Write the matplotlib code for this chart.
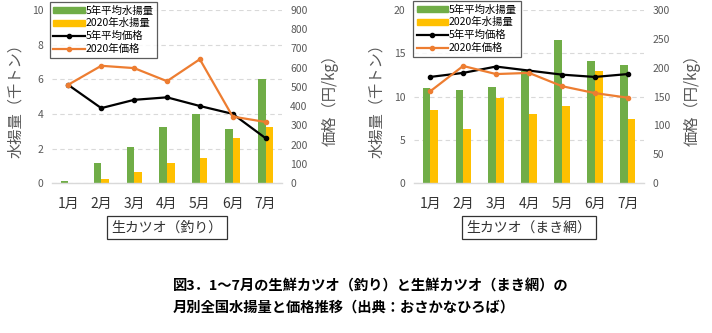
import numpy as np
import matplotlib.pyplot as plt
from matplotlib.lines import Line2D
from matplotlib.patches import Patch

plt.rcParams['font.family'] = ['Noto Sans CJK JP', 'DejaVu Sans']

months = ['1月', '2月', '3月', '4月', '5月', '6月', '7月']

# 生カツオ（釣り）
pole_avg_catch = [0.1, 1.15, 2.1, 3.25, 4.0, 3.15, 6.0]
pole_2020_catch = [0.0, 0.25, 0.65, 1.15, 1.45, 2.6, 3.25]
pole_avg_price = [510, 390, 433, 446, 401, 360, 234]
pole_2020_price = [512, 610, 598, 530, 644, 346, 318]

# 生カツオ（まき網）
seine_avg_catch = [11.0, 10.8, 11.05, 13.0, 16.5, 14.1, 13.7]
seine_2020_catch = [8.4, 6.3, 9.8, 7.95, 8.95, 13.0, 7.4]
seine_avg_price = [184, 191, 202, 195, 188, 184, 189]
seine_2020_price = [159, 203, 189, 191, 168, 156, 148]

GREEN = '#70AD47'
YELLOW = '#FFC000'
ORANGE = '#ED7D31'
GREY = '#595959'
GRID = '#D9D9D9'

fig = plt.figure(figsize=(7.12, 3.33), dpi=100)


def draw_panel(rect, avg_catch, catch_2020, avg_price, price_2020,
               ymax, ystep, pmax, pstep, title, legend_pos):
    ax = fig.add_axes(rect)
    x = np.arange(len(months))
    w = 0.23
    ax.bar(x - w / 2, avg_catch, w, color=GREEN, zorder=2)
    ax.bar(x + w / 2, catch_2020, w, color=YELLOW, zorder=2)
    ax.set_xlim(-0.5, len(months) - 0.5)
    ax.set_ylim(0, ymax)
    ax.set_yticks(np.arange(0, ymax + 0.1, ystep))
    ax.yaxis.grid(True, linestyle=(0, (4, 3)), color=GRID, linewidth=0.8)
    ax.set_axisbelow(True)
    for s in ['top', 'left', 'right']:
        ax.spines[s].set_visible(False)
    ax.spines['bottom'].set_color(GRID)
    ax.spines['bottom'].set_linewidth(1.0)
    ax.set_xticks(x)
    ax.set_xticklabels(months, fontsize=10, color='#333333')
    ax.tick_params(axis='x', length=0, pad=10)
    ax.tick_params(axis='y', length=0, pad=6, labelsize=7.5, labelcolor=GREY)
    ax.set_ylabel('水揚量（千トン）', fontsize=11, color=GREY, labelpad=6)

    ax2 = ax.twinx()
    ax2.plot(x, avg_price, color='black', marker='o', markersize=3, linewidth=1.6, zorder=3)
    ax2.plot(x, price_2020, color=ORANGE, marker='o', markersize=3, linewidth=1.6, zorder=3)
    ax2.set_ylim(0, pmax)
    ax2.set_yticks(np.arange(0, pmax + 1, pstep))
    for s in ax2.spines.values():
        s.set_visible(False)
    ax2.tick_params(axis='y', length=0, pad=6, labelsize=7.5, labelcolor=GREY)
    ax2.set_ylabel('価格（円/kg）', fontsize=11, color=GREY, labelpad=10)

    # category caption box under the month labels
    ax.text(0.5, -0.215, title, transform=ax.transAxes, ha='center', va='top',
            fontsize=10, color='#333333',
            bbox=dict(boxstyle='square,pad=0.35', facecolor='white',
                      edgecolor='#333333', linewidth=0.9))

    handles = [Patch(color=GREEN), Patch(color=YELLOW),
               Line2D([], [], color='black', marker='o', markersize=3, linewidth=1.6),
               Line2D([], [], color=ORANGE, marker='o', markersize=3, linewidth=1.6)]
    labels = ['5年平均水揚量', '2020年水揚量', '5年平均価格', '2020年価格']
    leg = fig.legend(handles, labels, loc='upper left', bbox_to_anchor=legend_pos,
                     fontsize=7.5, frameon=True, fancybox=False, borderpad=0.35,
                     labelspacing=0.25, handlelength=3.0, handleheight=0.5,
                     handletextpad=0.1, borderaxespad=0)
    leg.get_frame().set_edgecolor('#333333')
    leg.get_frame().set_linewidth(0.9)
    return ax, ax2


draw_panel([0.073, 0.450, 0.323, 0.520], pole_avg_catch, pole_2020_catch,
           pole_avg_price, pole_2020_price, 10, 2, 900, 100,
           '生カツオ（釣り）', (0.070, 0.994))
draw_panel([0.581, 0.450, 0.324, 0.520], seine_avg_catch, seine_2020_catch,
           seine_avg_price, seine_2020_price, 20, 5, 300, 50,
           '生カツオ（まき網）', (0.580, 0.997))

fig.text(0.243, 0.138, '図3．1～7月の生鮮カツオ（釣り）と生鮮カツオ（まき網）の',
         fontsize=10.3, fontweight='bold', ha='left', va='center')
fig.text(0.243, 0.075, '月別全国水揚量と価格推移（出典：おさかなひろば）',
         fontsize=10.3, fontweight='bold', ha='left', va='center')

fig.savefig('out.png', dpi=100)
